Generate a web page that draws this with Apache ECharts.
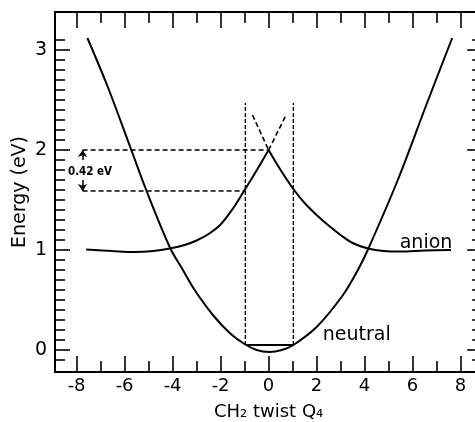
<!DOCTYPE html>
<html>
<head>
<meta charset="utf-8">
<script src="https://cdn.jsdelivr.net/npm/echarts@6/dist/echarts.min.js"></script>
<style>
  html, body { margin: 0; padding: 0; background: #fff; }
  #chart { width: 475px; height: 422px; }
</style>
</head>
<body>
<div id="chart"></div>
<script>
// Potential energy curves of the neutral molecule and its anion along the CH2 twist coordinate Q4

// Neutral ground state [Q4, energy in eV]
const neutral = [
  [-7.55, 3.12], [-6.7, 2.63], [-5.75, 2.02], [-5.1, 1.60], [-4.1, 1.02],
  [-3.57, 0.80], [-3.08, 0.60], [-2.32, 0.35], [-1.62, 0.17], [-1.0, 0.06],
  [-0.5, 0.0], [0.03, -0.02], [0.55, 0.0], [1.03, 0.05], [2.0, 0.23],
  [3.1, 0.55], [3.72, 0.80], [4.15, 1.01], [5.4, 1.71], [6.57, 2.45], [7.65, 3.12]
];

// Anion (adiabatic), left and right of the cusp at Q4 = 0
const anionLeft = [
  [-7.6, 1.005], [-6.5, 0.99], [-5.6, 0.98], [-4.8, 0.99], [-4.08, 1.017],
  [-3.5, 1.05], [-3.0, 1.095], [-2.5, 1.16], [-2.0, 1.255], [-1.5, 1.41],
  [-1.0, 1.60], [-0.5, 1.795], [0, 2.0]
];
const anionRight = [
  [0, 2.0], [0.5, 1.80], [1.03, 1.61], [1.5, 1.47], [2.0, 1.35], [2.5, 1.245],
  [3.0, 1.15], [3.5, 1.07], [4.14, 1.015], [4.8, 0.99], [5.5, 0.985],
  [6.5, 0.995], [7.6, 1.0]
];

// Diabatic continuations above the cusp
const diabaticLeft = [[-0.67, 2.35], [0, 2.0]];
const diabaticRight = [[0, 2.0], [0.73, 2.35]];

// Vertical window, zero-point level and the energy gap marker
const windowEdges = [-0.97, 1.03];
const windowTop = 2.47;
const zeroPointLevel = 0.05;
const cuspEnergy = 2.0;
const edgeEnergy = 1.59;
const gapArrowX = -7.75;
const gapText = '0.42 eV';

// Axis ticks
const xMajorTicks = [-8, -6, -4, -2, 0, 2, 4, 6, 8];
const xMinorTicks = [-7, -5, -3, -1, 1, 3, 5, 7];
const yMajorTicks = [0, 1, 2, 3];
const yMinorTicks = [-0.1, 0.1, 0.2, 0.3, 0.4, 0.5, 0.6, 0.7, 0.8, 0.9,
  1.1, 1.2, 1.3, 1.4, 1.5, 1.6, 1.7, 1.8, 1.9,
  2.1, 2.2, 2.3, 2.4, 2.5, 2.6, 2.7, 2.8, 2.9, 3.1];

const FONT = "'DejaVu Sans', sans-serif";
const NARROW = "'DejaVu Sans Condensed', 'Liberation Sans', sans-serif";
const INK = '#000';

function xAxisDef(position, ticks, len, withLine, withLabels) {
  return {
    type: 'value', position: position, min: -8.9, max: 8.9,
    axisLine: { show: withLine, onZero: false, lineStyle: { color: INK, width: 2 } },
    axisTick: { show: true, inside: true, length: len, customValues: ticks,
      lineStyle: { color: INK, width: 1.6 } },
    axisLabel: withLabels
      ? { show: true, customValues: ticks, fontSize: 18, color: INK, fontFamily: FONT, margin: 5 }
      : { show: false },
    splitLine: { show: false }
  };
}

function yAxisDef(position, ticks, len, withLine, withLabels) {
  return {
    type: 'value', position: position, min: -0.22, max: 3.38,
    axisLine: { show: withLine, onZero: false, lineStyle: { color: INK, width: 2 } },
    axisTick: { show: true, inside: true, length: len, customValues: ticks,
      lineStyle: { color: INK, width: 1.6 } },
    axisLabel: withLabels
      ? { show: true, customValues: ticks, fontSize: 19, color: INK, fontFamily: FONT, margin: 8 }
      : { show: false },
    splitLine: { show: false }
  };
}

const xMain = xAxisDef('bottom', xMajorTicks, 16, true, true);
xMain.name = 'CH\u2082 twist Q\u2084';
xMain.nameLocation = 'middle';
xMain.nameGap = 31;
xMain.nameMoveOverlap = false;
xMain.nameTextStyle = { fontSize: 18, color: INK, fontFamily: FONT };

const yMain = yAxisDef('left', yMajorTicks, 15, true, true);
yMain.name = 'Energy (eV)';
yMain.nameLocation = 'middle';
yMain.nameRotate = 90;
yMain.nameGap = 25;
yMain.nameMoveOverlap = false;
yMain.nameTextStyle = { fontSize: 19, color: INK, fontFamily: FONT };

function curve(data, width, dash) {
  return {
    type: 'line', data: data, xAxisIndex: 0, yAxisIndex: 0,
    showSymbol: false, symbol: 'none', smooth: data.length > 2 ? 0.35 : false,
    lineStyle: { color: INK, width: width, type: dash || 'solid' },
    silent: true, z: 3
  };
}

function textMark(x, y, text, size, align, weight, family) {
  return {
    type: 'scatter', xAxisIndex: 0, yAxisIndex: 0, data: [[x, y]],
    symbolSize: 1, itemStyle: { color: 'rgba(0,0,0,0)', opacity: 1 }, silent: true, z: 6,
    label: {
      show: true, position: 'inside', formatter: text, color: INK, opacity: 1,
      textBorderWidth: 0, fontSize: size, fontFamily: family || FONT,
      fontWeight: weight || 'normal', align: align, verticalAlign: 'middle'
    }
  };
}

const option = {
  backgroundColor: '#fff',
  animation: false,
  grid: { left: 55, top: 12, width: 427.2, height: 360, containLabel: false, outerBoundsMode: 'none' },
  xAxis: [
    xMain,
    xAxisDef('bottom', xMinorTicks, 11, false, false),
    xAxisDef('top', xMajorTicks, 16, true, false),
    xAxisDef('top', xMinorTicks, 11, false, false)
  ],
  yAxis: [
    yMain,
    yAxisDef('left', yMinorTicks, 10, false, false),
    yAxisDef('right', yMajorTicks, 15, true, false),
    yAxisDef('right', yMinorTicks, 10, false, false)
  ],
  series: [
    curve(neutral, 2),
    curve(anionLeft, 2),
    curve(anionRight, 2),
    curve(diabaticLeft, 1.6, [5, 3]),
    curve(diabaticRight, 1.6, [5, 3]),
    curve([[windowEdges[0], zeroPointLevel], [windowEdges[0], windowTop]], 1.3, [4, 2]),
    curve([[windowEdges[1], zeroPointLevel], [windowEdges[1], windowTop]], 1.3, [4, 2]),
    curve([[gapArrowX, cuspEnergy], [0, cuspEnergy]], 1.4, [5, 3]),
    curve([[gapArrowX, edgeEnergy], [windowEdges[0], edgeEnergy]], 1.4, [5, 3]),
    curve([[windowEdges[0], zeroPointLevel], [windowEdges[1], zeroPointLevel]], 2),
    {
      type: 'lines', coordinateSystem: 'cartesian2d', xAxisIndex: 0, yAxisIndex: 0,
      symbol: ['none', 'arrow'], symbolSize: 7, silent: true, z: 4,
      lineStyle: { color: INK, width: 1.5, opacity: 1, curveness: 0 },
      data: [
        { coords: [[gapArrowX, 1.90], [gapArrowX, cuspEnergy]] },
        { coords: [[gapArrowX, 1.70], [gapArrowX, edgeEnergy]] }
      ]
    },
    textMark(-8.36, 1.78, gapText, 11.5, 'left', 'bold', NARROW),
    textMark(6.56, 1.07, 'anion', 19, 'center'),
    textMark(3.67, 0.145, 'neutral', 19, 'center')
  ]
};

const chart = echarts.init(document.getElementById('chart'), null, { renderer: 'canvas' });
chart.setOption(option);
</script>
</body>
</html>
